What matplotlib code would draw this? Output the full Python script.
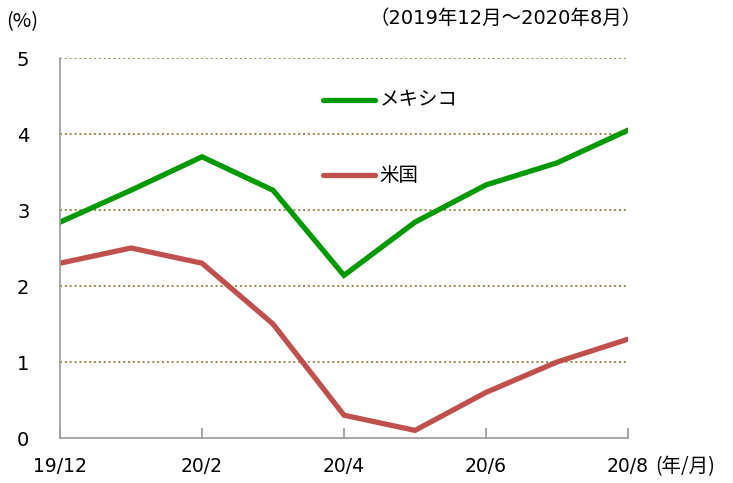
import matplotlib
matplotlib.use("Agg")
import matplotlib.pyplot as plt

plt.rcParams['font.family'] = ['DejaVu Sans', 'Noto Sans CJK JP']

months = ["19/12", "20/1", "20/2", "20/3", "20/4", "20/5", "20/6", "20/7", "20/8"]
mexico = [2.84, 3.26, 3.70, 3.26, 2.14, 2.84, 3.33, 3.62, 4.05]
usa = [2.30, 2.50, 2.30, 1.50, 0.30, 0.10, 0.60, 1.00, 1.30]
yticks = [0, 1, 2, 3, 4, 5]
xtick_idx = [0, 2, 4, 6, 8]

fig = plt.figure(figsize=(7.33, 4.83), dpi=100)
ax = fig.add_axes([60/733, 45/483, 568/733, 380/483])

x = list(range(len(months)))
green = "#009a00"
red = "#c0504d"
ax.plot(x, mexico, color=green, lw=3.8, solid_joinstyle='miter')
ax.plot(x, usa, color=red, lw=3.8, solid_joinstyle='miter')

ax.set_xlim(0, 8)
ax.set_ylim(0, 5)
for v in yticks[1:]:
    ax.axhline(v, color="#9a8a4a", lw=1.4, ls=(0, (1, 1.5)), zorder=0)

for s in ["top", "right"]:
    ax.spines[s].set_visible(False)
for s in ["left", "bottom"]:
    ax.spines[s].set_color("#a0a0a0")
    ax.spines[s].set_linewidth(1.3)

ax.set_yticks(yticks)
ax.set_yticklabels([str(v) for v in yticks], fontsize=14)
ax.tick_params(axis='y', length=0, pad=22)
ax.set_xticks(xtick_idx)
ax.set_xticklabels([months[i] for i in xtick_idx], fontsize=13.5)
ax.tick_params(axis='x', direction='in', length=7, color="#a0a0a0", width=1.3, pad=14)

# legend drawn inside
ax.plot([3.7, 4.43], [4.45, 4.45], color=green, lw=3.8, solid_capstyle='round', clip_on=False)
ax.text(4.5, 4.45, "メキシコ", fontsize=14, va='center', ha='left', family=['Noto Sans CJK JP'])
ax.plot([3.7, 4.43], [3.46, 3.46], color=red, lw=3.8, solid_capstyle='round', clip_on=False)
ax.text(4.5, 3.46, "米国", fontsize=14, va='center', ha='left', family=['Noto Sans CJK JP'])

fig.text(6/733, 1 - 22/483, "(%)", fontsize=14.5, va='center', ha='left',
         family=['Noto Sans CJK JP'])
fig.text(642/733, 1 - 18/483, "（2019年12月～2020年8月）", fontsize=14, va='center', ha='right',
         family=['DejaVu Sans', 'Noto Sans CJK JP'])
fig.text(655/733, 1 - 467/483, "(年/月)", fontsize=14, va='center', ha='left',
         family=['Noto Sans CJK JP'])

fig.savefig("out.png", dpi=100)
